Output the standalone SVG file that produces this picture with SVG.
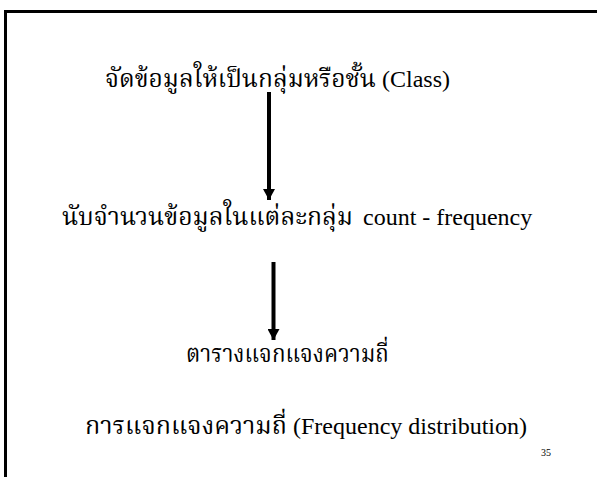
<svg xmlns="http://www.w3.org/2000/svg" width="597" height="477" viewBox="0 0 597 477">
  <style>
    .t { font-family: "Liberation Serif", "Norasi", "Noto Serif Thai", "Noto Sans CJK SC", serif; font-size: 24px; fill: #000; }
    .pg { font-family: "Liberation Serif", serif; font-size: 10px; fill: #000; }
    .conn { stroke: #000; stroke-width: 4; fill: none; }
  </style>
  <defs>
    <marker id="ah" markerUnits="userSpaceOnUse" markerWidth="12" markerHeight="12" refX="10" refY="5.5" orient="auto" viewBox="0 0 10 11">
      <path d="M0,0 L10,5.5 L0,11 Z" fill="#000"/>
    </marker>
  </defs>
  <rect width="597" height="477" fill="#fff"/>
  <path d="M5.5,477 V11.5 H597" stroke="#000" stroke-width="3" fill="none"/>
  <g id="connectors">
    <line class="conn" x1="269" y1="92" x2="269" y2="200" marker-end="url(#ah)"/>
    <line class="conn" x1="273.5" y1="262" x2="273.5" y2="340" marker-end="url(#ah)"/>
  </g>
  <g id="node-class"><text class="t" x="105" y="87"><tspan textLength="271" lengthAdjust="spacingAndGlyphs">จัดข้อมูลให้เป็นกลุ่มหรือชั้น</tspan><tspan x="382">(Class)</tspan></text></g>
  <g id="node-count"><text class="t" x="62" y="225"><tspan textLength="291" lengthAdjust="spacingAndGlyphs">นับจำนวนข้อมูลในแต่ละกลุ่ม</tspan><tspan x="363">count - frequency</tspan></text></g>
  <g id="node-table"><text class="t" x="186" y="362" textLength="203" lengthAdjust="spacingAndGlyphs">ตารางแจกแจงความถี่</text></g>
  <g id="node-dist"><text class="t" x="85" y="434"><tspan textLength="202" lengthAdjust="spacingAndGlyphs">การแจกแจงความถี่</tspan><tspan x="293">(Frequency distribution)</tspan></text></g>
  <text class="pg" x="541" y="456">35</text>
</svg>
